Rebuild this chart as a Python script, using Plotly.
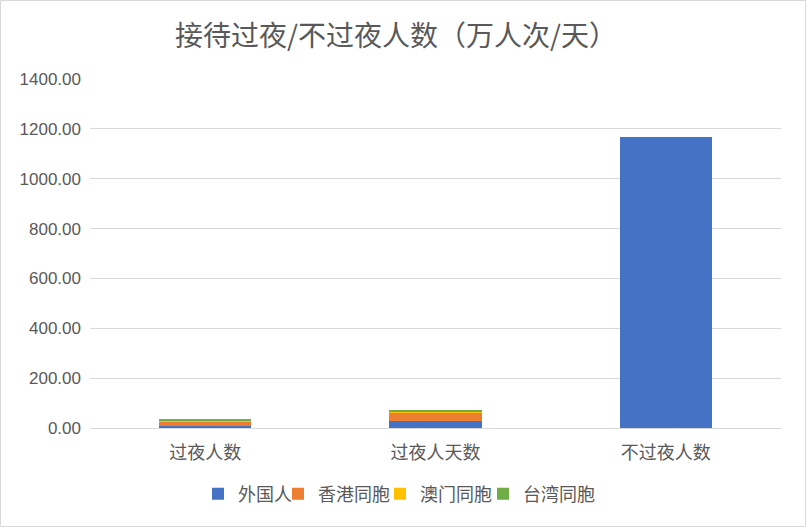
import plotly.graph_objects as go

categories = ["过夜人数", "过夜人天数", "不过夜人数"]
series_names = ["外国人", "香港同胞", "澳门同胞", "台湾同胞"]
foreigners = [9, 28, 1167]
hongkong = [17, 33, 0]
macau = [5, 4, 0]
taiwan = [7, 8, 0]
colors = ["#4472C4", "#ED7D31", "#FFC000", "#70AD47"]
tick_vals = [0, 200, 400, 600, 800, 1000, 1200, 1400]
legend_widths = [35, 57, 58, 78]

W, H = 806, 527
L, R, T, B = 90, 25, 79, 99
pw, ph = W - L - R, H - T - B

fig = go.Figure()
for name, vals, c, lw in zip(series_names, [foreigners, hongkong, macau, taiwan], colors, legend_widths):
    fig.add_trace(go.Bar(x=categories, y=vals, name=name, legendwidth=lw,
                         marker=dict(color=c, line=dict(width=0))))

font_cjk = "Noto Sans CJK SC, sans-serif"
fig.update_layout(
    width=W, height=H,
    barmode="stack", bargap=0.6,
    margin=dict(l=L, r=R, t=T, b=B),
    paper_bgcolor="white", plot_bgcolor="white",
    title=dict(text="接待过夜/不过夜人数（万人次/天）", x=(396 - L) / pw, xref="paper", xanchor="center",
               y=1 - 36 / H, yanchor="middle",
               font=dict(family=font_cjk, size=28, color="#595959")),
    xaxis=dict(showgrid=False, showline=False, ticks="", ticklabelstandoff=12,
               tickfont=dict(family=font_cjk, size=18, color="#595959")),
    yaxis=dict(range=[0, 1400], tickvals=tick_vals, tickformat=".2f", showgrid=True, gridcolor="#D9D9D9",
               gridwidth=1, zeroline=True, zerolinecolor="#D9D9D9", zerolinewidth=1, showline=False,
               ticks="", ticklabelstandoff=8,
               tickfont=dict(family="Liberation Sans, sans-serif", size=17, color="#595959")),
    legend=dict(orientation="h", x=(223 - 25 - L) / pw, xanchor="left", y=(T + ph - 494) / ph, yanchor="middle",
                font=dict(family=font_cjk, size=18, color="#595959"), itemwidth=30, traceorder="normal"),
    showlegend=True,
)
fig.add_shape(type="rect", xref="paper", yref="paper",
              x0=-(L - 0.5) / pw, x1=1 + (R - 0.5) / pw, y0=-(B - 0.5) / ph, y1=1 + (T - 0.5) / ph,
              line=dict(color="#D9D9D9", width=1), layer="below")
fig.write_html("out.html", config={"displayModeBar": False},
               post_script="document.body.style.margin='0';document.body.style.overflow='hidden';")
